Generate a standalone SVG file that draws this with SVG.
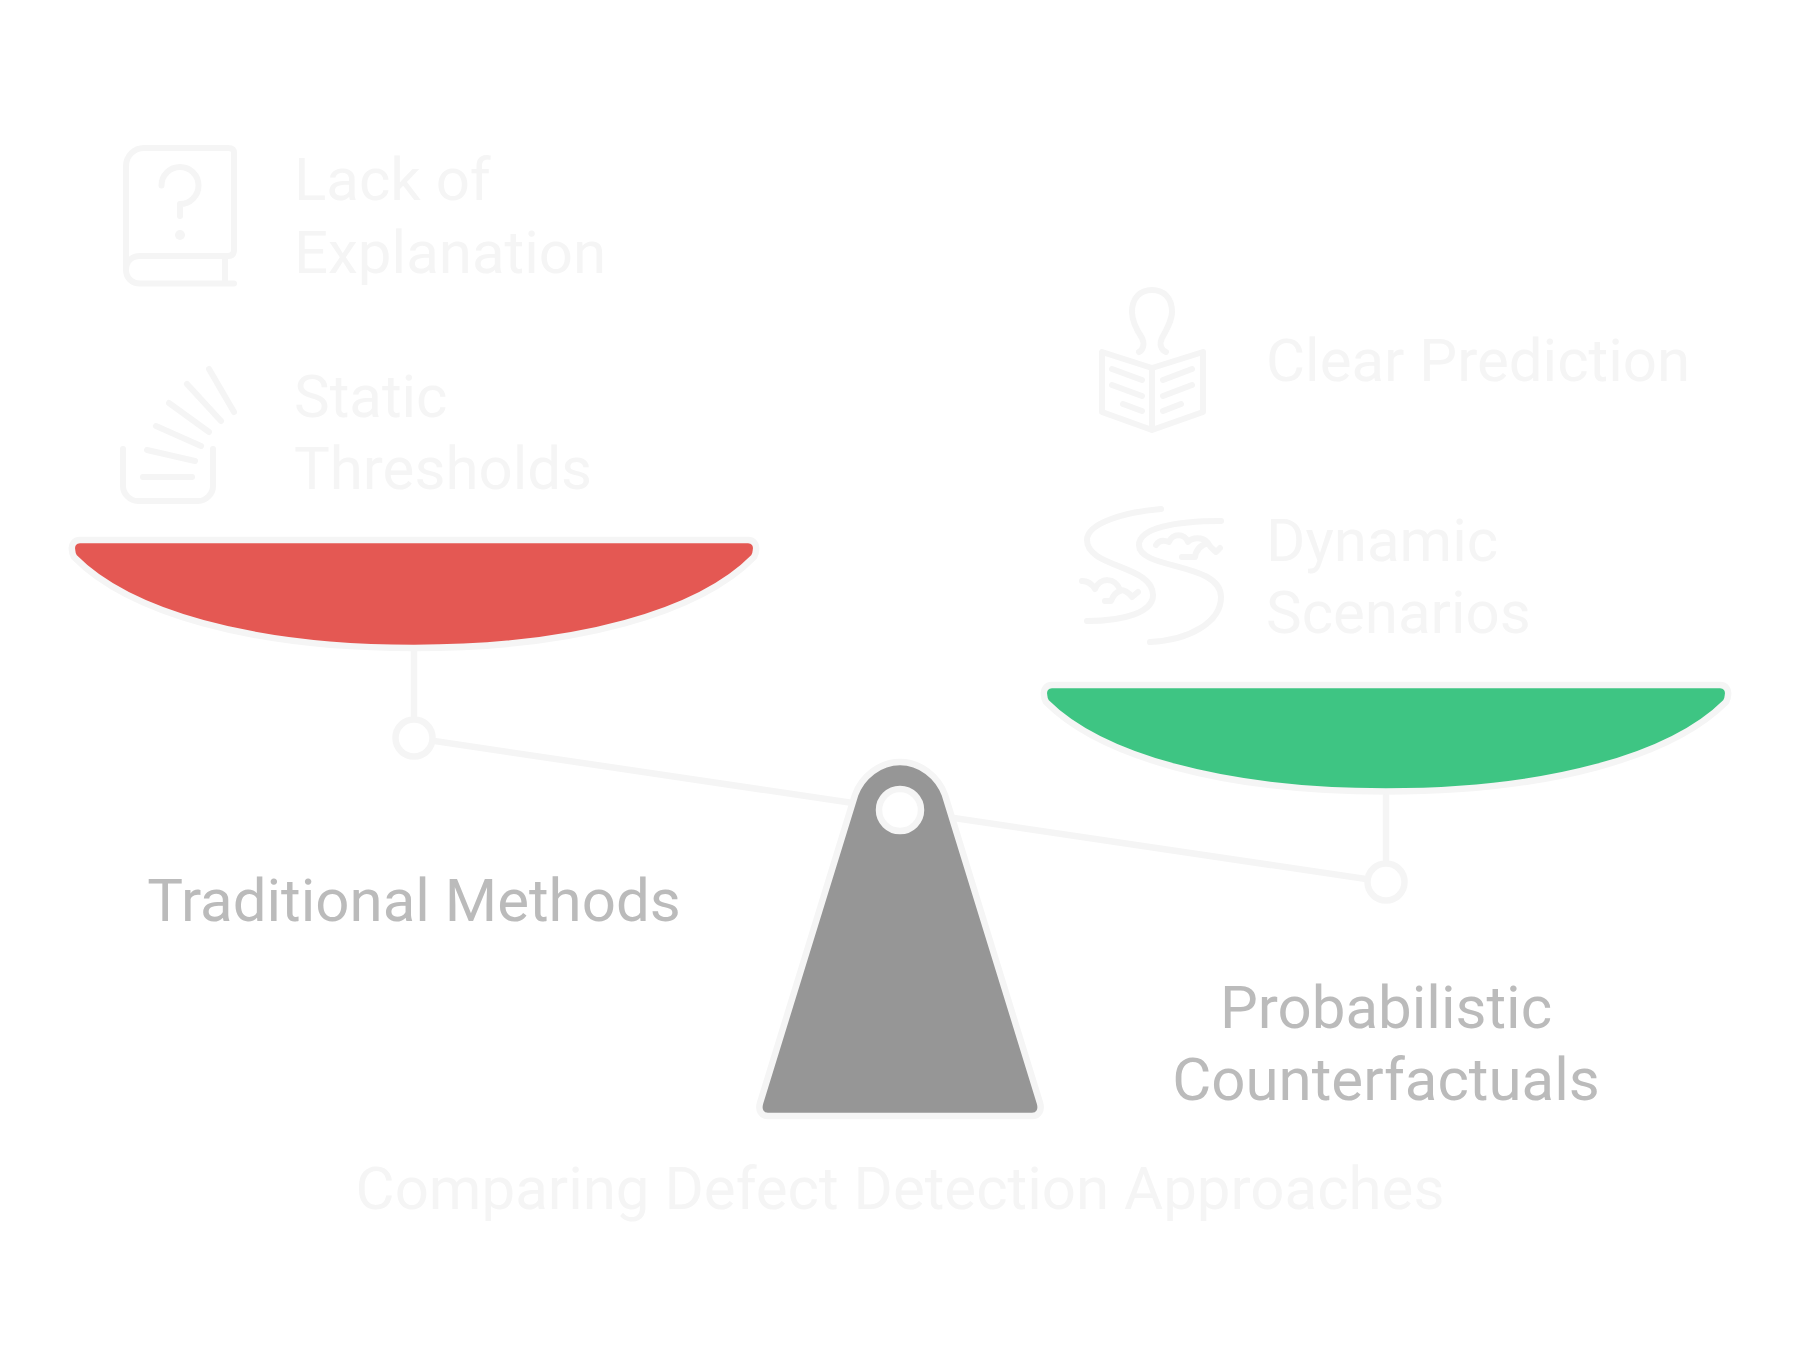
<svg xmlns="http://www.w3.org/2000/svg" width="1800" height="1368" viewBox="0 0 1800 1368">
<style>
.t{font-family:Roboto,"Liberation Sans",sans-serif;font-size:60px}
.f{fill:#f5f5f5}
.g{fill:#bbbbbb}
.m{text-anchor:middle}
.i{fill:none;stroke:#f5f5f5;stroke-width:6;stroke-linecap:round;stroke-linejoin:round}
.o{stroke:#f5f5f5;stroke-width:6.500;stroke-linejoin:round}
.c{fill:#fff;stroke:#f5f5f5;stroke-width:6.500}
</style>
<rect width="1800" height="1368" fill="#fff"/>
<g id="connectors" fill="none" stroke="#f5f5f5" stroke-width="6.500">
<path d="M414 650V738L900 810L1386 882V794"/>
</g>
<g id="pan-left">
<path class="o" fill="#e45853" d="M80 540H748C754 540 757 545 756 550C756 553 755 555 754 557C700 612 578 648 414 648C250 648 128 612 74 557C73 555 72 553 72 550C71 545 74 540 80 540Z"/>
<circle class="c" cx="414" cy="738" r="18.500"/>
<text class="t g m" x="414" y="920.500">Traditional Methods</text>
</g>
<g id="pan-right">
<path class="o" fill="#3ec583" d="M1052 685H1720C1726 685 1729 690 1728 695C1728 698 1727 700 1726 702C1672 756 1550 791.500 1386 791.500C1222 791.500 1100 756 1046 702C1045 700 1044 698 1044 695C1043 690 1046 685 1052 685Z"/>
<circle class="c" cx="1386" cy="882" r="18.500"/>
<text class="t g m" x="1386" y="1028">Probabilistic</text>
<text class="t g m" x="1386" y="1100">Counterfactuals</text>
</g>
<g id="fulcrum">
<path class="o" fill="#969696" d="M900 762C880 762 862 776 855 795L760 1103C758 1110 761 1116 768 1116H1032C1039 1116 1042 1110 1040 1103L945 795C938 776 920 762 900 762Z"/>
<circle class="c" cx="900" cy="810" r="21"/>
</g>
<g id="lack-of-explanation">
<path class="i" d="M126 270V166C126 156 134 148 144 148H228C232 148 234 149.500 234 153V250C234 254 232 256 228 256H140C132 256 126 261 126 270C126 278 132 283.500 140 283.500H234M225 256V283.500"/>
<path class="i" d="M161.500 185.500A18.500 18.500 0 1 1 180 204V216"/>
<circle cx="180" cy="235" r="5" fill="#f5f5f5"/>
<text class="t f" x="294" y="200">Lack of</text>
<text class="t f" x="294" y="272.500">Explanation</text>
</g>
<g id="static-thresholds">
<path class="i" d="M123 449V486C123 494 130 501 138 501H198C206 501 213 494 213 486V449M143 477H192M147 450L195 461M156 426L201 446M169 403L209 432M187 384L221 421M209 369L234 412"/>
<text class="t f" x="294" y="416.500">Static</text>
<text class="t f" x="294" y="489">Thresholds</text>
</g>
<g id="clear-prediction">
<path class="i" d="M1152 368L1102 352V412L1152 430L1203 412V352ZM1152 368V430M1112 369L1142 380M1112 385L1142 396M1123 404L1142 411M1163 380L1192 369M1163 396L1192 385M1163 411L1181 404"/>
<path class="i" d="M1139 352C1143 350 1145 344 1142 338C1136 329 1132 320 1132 312C1132 298 1140 290 1152 290C1164 290 1172 298 1172 312C1172 320 1167 329 1162 338C1159 344 1161 350 1166 352"/>
<text class="t f" x="1266" y="380.500">Clear Prediction</text>
</g>
<g id="dynamic-scenarios">
<path class="i" d="M1161 509C1125 512 1087 523 1087 540C1087 568 1153 565 1153 595C1153 612 1125 621 1087 621M1221 521C1175 521 1139 528 1139 545C1139 570 1221 562 1221 597C1221 622 1190 640 1150 642"/>
<path class="i" d="M1156 545C1159 540 1164 540 1169 542C1172 533 1185 533 1188 542C1192 537 1203 537 1207 542C1210 547 1212 549 1216 552L1220 548M1182 557L1195 557C1196 550 1201 545 1208 543M1082 581C1088 581 1092 584 1095 589C1100 577 1115 577 1120 590C1125 590 1129 593 1132 597L1138 592M1105 601H1111C1113 596 1116 592 1120 591"/>
<text class="t f" x="1266" y="560.500">Dynamic</text>
<text class="t f" x="1266" y="632.500">Scenarios</text>
</g>
<g id="title">
<text class="t f m" x="900" y="1209">Comparing Defect Detection Approaches</text>
</g>
</svg>
